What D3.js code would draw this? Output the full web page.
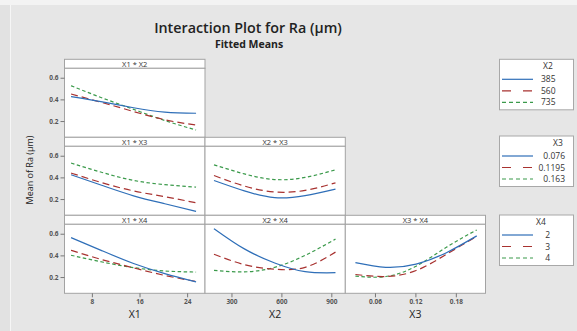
<!DOCTYPE html>
<html>
<head>
<meta charset="utf-8">
<script src="https://cdn.jsdelivr.net/npm/d3@7"></script>
<style>
  html, body { margin: 0; padding: 0; background: #e6e6e6; }
  svg { display: block; }
  text { font-family: "Open Sans", "Noto Sans", sans-serif; }
</style>
</head>
<body>
<svg id="chart" width="577" height="331"></svg>
<script>
// ---------- DATA ----------
const x1Points = [4.5, 9.75, 15, 20.25, 25.5];
const x2Points = [195, 377.5, 560, 742.5, 925];
const x3Points = [0.031, 0.076, 0.121, 0.166, 0.211];

const x1Ticks = [8, 16, 24];
const x2Ticks = [300, 600, 900];
const x3Ticks = [0.06, 0.12, 0.18];
const yTicks = [0.2, 0.4, 0.6];

const x2Levels = ["385", "560", "735"];
const x3Levels = ["0.076", "0.1195", "0.163"];
const x4Levels = ["2", "3", "4"];

// X1 * X2 (series = X2 levels)
const x1x2_385 = [0.425, 0.377, 0.323, 0.283, 0.272];
const x1x2_560 = [0.450, 0.370, 0.288, 0.212, 0.163];
const x1x2_735 = [0.526, 0.413, 0.308, 0.205, 0.117];
// X1 * X3 (series = X3 levels)
const x1x3_0076 = [0.424, 0.325, 0.230, 0.157, 0.087];
const x1x3_01195 = [0.440, 0.350, 0.275, 0.222, 0.165];
const x1x3_0163 = [0.532, 0.445, 0.372, 0.333, 0.310];
// X1 * X4 (series = X4 levels)
const x1x4_2 = [0.564, 0.442, 0.325, 0.232, 0.155];
const x1x4_3 = [0.447, 0.360, 0.285, 0.215, 0.160];
const x1x4_4 = [0.401, 0.339, 0.287, 0.256, 0.246];
// X2 * X3
const x2x3_0076 = [0.371, 0.275, 0.213, 0.232, 0.292];
const x2x3_01195 = [0.417, 0.320, 0.265, 0.280, 0.350];
const x2x3_0163 = [0.516, 0.432, 0.380, 0.400, 0.470];
// X2 * X4
const x2x4_2 = [0.647, 0.460, 0.330, 0.250, 0.240];
const x2x4_3 = [0.410, 0.315, 0.272, 0.290, 0.430];
const x2x4_4 = [0.262, 0.248, 0.290, 0.400, 0.550];
// X3 * X4
const x3x4_2 = [0.333, 0.290, 0.320, 0.425, 0.580];
const x3x4_3 = [0.224, 0.205, 0.260, 0.410, 0.575];
const x3x4_4 = [0.208, 0.205, 0.300, 0.475, 0.635];

// ---------- LAYOUT ----------
const svg = d3.select("#chart");
const W = 577, H = 331;
const colors = ["#2f6fb8", "#a83230", "#3b9a4b"];
const dashes = [null, "7,4", "3.5,2.5"];
const legendDashes = [null, "9,12", "4,3"];

// background frame
svg.append("rect").attr("x", 0).attr("y", 0).attr("width", W).attr("height", H).attr("fill", "#e2e2e2");
svg.append("rect").attr("x", 10).attr("y", 5).attr("width", W - 10).attr("height", H - 5).attr("fill", "#e6e6e6");
svg.append("rect").attr("x", 0).attr("y", 0).attr("width", W).attr("height", 5).attr("fill", "#f3f3f3");
svg.append("line").attr("x1", 10.5).attr("x2", 10.5).attr("y1", 5).attr("y2", H).attr("stroke", "#f6f6f6").attr("stroke-width", 1);

// titles
svg.append("text").attr("x", 248).attr("y", 33).attr("text-anchor", "middle")
  .attr("font-size", 14.3).attr("font-weight", 600).attr("fill", "#222").text("Interaction Plot for Ra (µm)");
svg.append("text").attr("x", 249).attr("y", 48).attr("text-anchor", "middle")
  .attr("font-size", 10.5).attr("font-weight", 700).attr("fill", "#222").text("Fitted Means");

const colX = [[64.5, 205], [205, 345.3], [345.3, 485.5]];
const rowTop = r => 59.3 + 78 * r;
const headerH = 9;
const plotH = 69;

const xScales = [
  d3.scaleLinear().domain([3.4, 27]).range(colX[0]),
  d3.scaleLinear().domain([141, 984]).range(colX[1]),
  d3.scaleLinear().domain([0.016, 0.224]).range(colX[2])
];
const yScales = [0, 1, 2].map(r =>
  d3.scaleLinear().domain([0.05, 0.687]).range([rowTop(r) + headerH + plotH, rowTop(r) + headerH]));

const xPoints = [x1Points, x2Points, x3Points];

const panels = [
  { row: 0, col: 0, title: "X1 * X2", series: [x1x2_385, x1x2_560, x1x2_735] },
  { row: 1, col: 0, title: "X1 * X3", series: [x1x3_0076, x1x3_01195, x1x3_0163] },
  { row: 2, col: 0, title: "X1 * X4", series: [x1x4_2, x1x4_3, x1x4_4] },
  { row: 1, col: 1, title: "X2 * X3", series: [x2x3_0076, x2x3_01195, x2x3_0163] },
  { row: 2, col: 1, title: "X2 * X4", series: [x2x4_2, x2x4_3, x2x4_4] },
  { row: 2, col: 2, title: "X3 * X4", series: [x3x4_2, x3x4_3, x3x4_4] }
];

const borderColor = "#a3a3a3";

panels.forEach((p, i) => {
  const [x0, x1] = colX[p.col];
  const top = rowTop(p.row);
  const g = svg.append("g");
  // header
  g.append("rect").attr("x", x0).attr("y", top).attr("width", x1 - x0).attr("height", headerH)
    .attr("fill", "#fff").attr("stroke", borderColor).attr("stroke-width", 1);
  g.append("text").attr("x", (x0 + x1) / 2).attr("y", top + 7.2).attr("text-anchor", "middle")
    .attr("font-size", 7.5).attr("fill", "#333").text(p.title);
  // plot area
  g.append("rect").attr("x", x0).attr("y", top + headerH).attr("width", x1 - x0).attr("height", plotH)
    .attr("fill", "#fff").attr("stroke", borderColor).attr("stroke-width", 1);

  const clipId = "clip" + i;
  svg.append("clipPath").attr("id", clipId).append("rect")
    .attr("x", x0).attr("y", top + headerH).attr("width", x1 - x0).attr("height", plotH);

  const xs = xScales[p.col], ys = yScales[p.row], xp = xPoints[p.col];
  const line = d3.line().x(d => xs(d[0])).y(d => ys(d[1])).curve(d3.curveNatural);
  [2, 1, 0].forEach(k => {
    const pts = xp.map((xv, j) => [xv, p.series[k][j]]);
    g.append("path").attr("d", line(pts)).attr("fill", "none")
      .attr("stroke", colors[k]).attr("stroke-width", 1.2)
      .attr("stroke-dasharray", dashes[k])
      .attr("clip-path", `url(#${clipId})`);
  });
});

// Y axes (left column)
[0, 1, 2].forEach(r => {
  const ax = svg.append("g").attr("transform", `translate(${colX[0][0]},0)`)
    .call(d3.axisLeft(yScales[r]).tickValues(yTicks).tickSize(4).tickPadding(2).tickFormat(d3.format(".1f")));
  ax.select(".domain").remove();
  ax.selectAll("line").attr("stroke", "#777");
  ax.selectAll("text").attr("font-size", 6.5).attr("font-weight", 700).attr("fill", "#555")
    .attr("font-family", "'Open Sans', sans-serif");
});

// X axes (bottom row)
const xTickSets = [x1Ticks, x2Ticks, x3Ticks];
const xFormats = [d3.format("d"), d3.format("d"), d3.format(".2f")];
const xLabels = ["X1", "X2", "X3"];
const bottom = rowTop(2) + headerH + plotH;
[0, 1, 2].forEach(c => {
  const ax = svg.append("g").attr("transform", `translate(0,${bottom})`)
    .call(d3.axisBottom(xScales[c]).tickValues(xTickSets[c]).tickSize(4).tickPadding(2).tickFormat(xFormats[c]));
  ax.select(".domain").remove();
  ax.selectAll("line").attr("stroke", "#777");
  ax.selectAll("text").attr("font-size", 6.5).attr("font-weight", 700).attr("fill", "#555")
    .attr("font-family", "'Open Sans', sans-serif");
  svg.append("text").attr("x", (colX[c][0] + colX[c][1]) / 2).attr("y", 318)
    .attr("text-anchor", "middle").attr("font-size", 10.5).attr("fill", "#222").text(xLabels[c]);
});

// Y axis label
svg.append("text").attr("transform", "translate(33,170) rotate(-90)").attr("text-anchor", "middle")
  .attr("font-size", 9).attr("fill", "#222").text("Mean of Ra (µm)");

// Legends
const legends = [
  { title: "X2", levels: x2Levels, y: 59.3, titleX: 548 },
  { title: "X3", levels: x3Levels, y: 136, titleX: 558 },
  { title: "X4", levels: x4Levels, y: 215, titleX: 541 }
];
const labelRight = [555.5, 565, 550];
legends.forEach((L, li) => {
  const g = svg.append("g");
  g.append("rect").attr("x", 499.5).attr("y", L.y).attr("width", 74).attr("height", 50.5)
    .attr("fill", "#fff").attr("stroke", "#a8a8a8").attr("stroke-width", 1);
  g.append("text").attr("x", L.titleX).attr("y", L.y + 10).attr("text-anchor", "middle")
    .attr("font-size", 8.5).attr("fill", "#333").text(L.title);
  L.levels.forEach((lv, k) => {
    const yy = L.y + 20 + k * 11.5;
    g.append("line").attr("x1", 502).attr("x2", 533).attr("y1", yy).attr("y2", yy)
      .attr("stroke", colors[k]).attr("stroke-width", 1.2).attr("stroke-dasharray", legendDashes[k]);
    g.append("text").attr("x", labelRight[li]).attr("y", yy + 3).attr("text-anchor", "end")
      .attr("font-size", 8.5).attr("fill", "#333").text(lv);
  });
});
</script>
</body>
</html>
